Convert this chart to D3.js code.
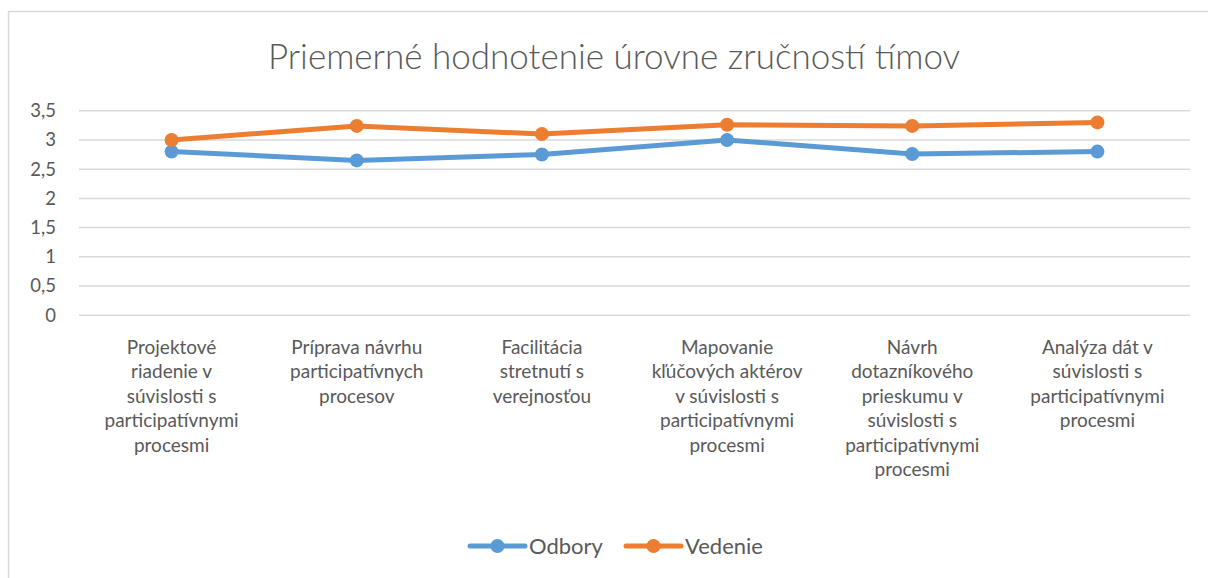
<!DOCTYPE html>
<html>
<head>
<meta charset="utf-8">
<script src="https://cdn.jsdelivr.net/npm/d3@7"></script>
<style>
  body { margin: 0; background: #fff; }
  text { font-family: Lato, "Open Sans", sans-serif; fill: #595959; }
</style>
</head>
<body>
<svg width="1208" height="578"></svg>
<script>
var categories = [
	['Projektové', 'riadenie v', 'súvislosti s', 'participatívnymi', 'procesmi'],
	['Príprava návrhu', 'participatívnych', 'procesov'],
	['Facilitácia', 'stretnutí s', 'verejnosťou'],
	['Mapovanie', 'kľúčových aktérov', 'v súvislosti s', 'participatívnymi', 'procesmi'],
	['Návrh', 'dotazníkového', 'prieskumu v', 'súvislosti s', 'participatívnymi', 'procesmi'],
	['Analýza dát v', 'súvislosti s', 'participatívnymi', 'procesmi']
];
var odbory = [2.8, 2.65, 2.75, 3.0, 2.76, 2.8];
var vedenie = [3.0, 3.24, 3.1, 3.26, 3.24, 3.3];
var yTicks = [0, 0.5, 1, 1.5, 2, 2.5, 3, 3.5];
var seriesNames = ['Odbory', 'Vedenie'];

function main() {
	var svg = d3.select('svg');
	var colors = ['#5B9BD5', '#ED7D31'];
	var series = [odbory, vedenie];

	// chart frame
	svg.append('path')
		.attr('d', 'M8.5,578V11.5H1208')
		.attr('fill', 'none')
		.attr('stroke', '#d9d9d9')
		.attr('stroke-width', 1.5);

	svg.append('text')
		.attr('x', 614)
		.attr('y', 69)
		.attr('text-anchor', 'middle')
		.style('font-size', '35px')
		.style('font-weight', 300)
		.text('Priemerné hodnotenie úrovne zručností tímov');

	var x = d3.scaleBand()
		.domain(d3.range(categories.length))
		.range([79, 1190]);
	var y = d3.scaleLinear()
		.domain([0, 3.5])
		.range([315.3, 110.7]);

	// grid
	svg.append('g').selectAll('line')
		.data(yTicks)
		.enter().append('line')
		.attr('x1', 79).attr('x2', 1190)
		.attr('y1', function(d){ return y(d); })
		.attr('y2', function(d){ return y(d); })
		.attr('stroke', '#d9d9d9')
		.attr('stroke-width', 1.5);

	// y axis
	var yAxis = svg.append('g')
		.attr('transform', 'translate(56,0)')
		.call(d3.axisLeft(y).tickValues(yTicks).tickSize(0).tickPadding(0)
			.tickFormat(function(d){ return String(d).replace('.', ','); }));
	yAxis.select('.domain').remove();
	yAxis.selectAll('text')
		.style('font-size', '18.5px')
		.attr('fill', '#595959');

	// x labels
	var xl = svg.append('g').selectAll('text')
		.data(categories)
		.enter().append('text')
		.attr('text-anchor', 'middle')
		.attr('transform', function(d, i){ return 'translate(' + (x(i) + x.bandwidth() / 2) + ',354)'; })
		.style('font-size', '19px');
	xl.selectAll('tspan')
		.data(function(d){ return d; })
		.enter().append('tspan')
		.attr('x', 0)
		.attr('dy', function(d, i){ return i === 0 ? 0 : 24.4; })
		.text(function(d){ return d; });

	var line = d3.line()
		.x(function(d, i){ return x(i) + x.bandwidth() / 2; })
		.y(function(d){ return y(d); });

	series.forEach(function(s, k){
		svg.append('path')
			.datum(s)
			.attr('d', line)
			.attr('fill', 'none')
			.attr('stroke', colors[k])
			.attr('stroke-width', 5)
			.attr('stroke-linejoin', 'round');
		svg.append('g').selectAll('circle')
			.data(s)
			.enter().append('circle')
			.attr('cx', function(d, i){ return x(i) + x.bandwidth() / 2; })
			.attr('cy', function(d){ return y(d); })
			.attr('r', 7)
			.attr('fill', colors[k]);
	});

	// legend
	var legX = [470, 626];
	var leg = svg.append('g').selectAll('g')
		.data(seriesNames)
		.enter().append('g')
		.attr('transform', function(d, i){ return 'translate(' + legX[i] + ',546)'; });
	leg.append('line')
		.attr('x1', 0).attr('x2', 55)
		.attr('stroke', function(d, i){ return colors[i]; })
		.attr('stroke-width', 5)
		.attr('stroke-linecap', 'round');
	leg.append('circle')
		.attr('cx', 27.5)
		.attr('r', 7)
		.attr('fill', function(d, i){ return colors[i]; });
	leg.append('text')
		.attr('x', 59)
		.attr('y', 8)
		.style('font-size', '22px')
		.text(function(d){ return d; });
}
main();
</script>
</body>
</html>
